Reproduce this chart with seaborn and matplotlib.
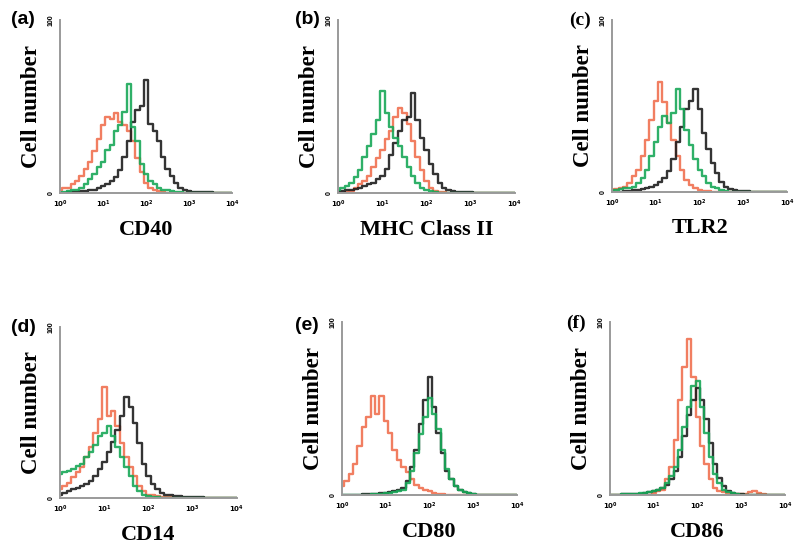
import pandas as pd
import seaborn as sns
import matplotlib.pyplot as plt
from matplotlib.ticker import NullLocator

# fluorescence channel, in decades (10^0 .. 10^4), 0.1 decade bins
DECADES = [0.0, 0.1, 0.2, 0.3, 0.4, 0.5, 0.6, 0.7, 0.8, 0.9,
           1.0, 1.1, 1.2, 1.3, 1.4, 1.5, 1.6, 1.7, 1.8, 1.9,
           2.0, 2.1, 2.2, 2.3, 2.4, 2.5, 2.6, 2.7, 2.8, 2.9,
           3.0, 3.1, 3.2, 3.3, 3.4, 3.5, 3.6, 3.7, 3.8, 3.9, 4.0]

PANELS = ["(a)", "(b)", "(c)", "(d)", "(e)", "(f)"]
MARKERS = ["CD40", "MHC Class II", "TLR2", "CD14", "CD80", "CD86"]

# cell counts (red / black / green)
red_a = [2, 3, 3, 5, 7, 10, 14, 18, 24, 31, 39, 44, 43, 46, 41, 39, 36, 30, 20, 12,
         6, 3, 2, 1, 0.5] + [0] * 16
black_a = [0, 0, 0.5, 0.5, 0.5, 1, 1, 1.5, 2, 3, 4, 5, 7, 9, 13, 21, 30, 41, 48, 50,
           65, 40, 36, 30, 21, 14, 10, 6, 3, 2, 1, 0.8, 0.5, 0.5, 0.3, 0.3, 0.2, 0.2, 0.1, 0, 0]
green_a = [0, 0.5, 1, 1.5, 2, 3, 5, 8, 11, 15, 18, 25, 28, 36, 39, 47, 63, 38, 30, 17,
           11, 7, 5, 3, 2, 1.5, 1, 0.7, 0.5] + [0] * 12

red_b = [0, 0, 0.5, 1, 3, 5, 7, 10, 15, 20, 25, 31, 36, 44, 49, 46, 40, 30, 21, 13,
         7, 3, 1, 0.7, 0.5] + [0] * 16
black_b = [1, 1, 1.5, 2, 2.5, 3, 4, 5, 6, 8, 10, 14, 22, 29, 36, 42, 44, 58, 42, 32,
           25, 17, 11, 6, 3, 1.5, 1, 0.5, 0.5, 0.3, 0.3] + [0] * 10
green_b = [2, 3, 4, 6, 9, 13, 21, 27, 34, 42, 59, 46, 38, 32, 27, 21, 15, 10, 6, 3,
           1.5, 1, 0.5] + [0] * 18

red_c = [1, 1.5, 2, 3, 5, 9, 13, 21, 30, 42, 53, 64, 52, 40, 30, 21, 13, 7, 4, 2,
         1, 0.7, 0.5] + [0] * 18
black_c = [0, 0, 0, 0.5, 0.7, 1, 1.2, 1.5, 2, 3, 4, 6, 8, 12, 19, 29, 38, 48, 53, 60,
           48, 34, 25, 17, 11, 6, 3, 1.5, 1, 0.5, 0.5, 0.3] + [0] * 9
green_c = [0, 1, 1.5, 2, 2.5, 3, 5, 8, 13, 21, 29, 38, 44, 40, 46, 60, 48, 36, 27, 19,
           13, 9, 5, 3, 2, 1, 0.5] + [0] * 14

red_d = [5, 7, 9, 12, 15, 18, 24, 30, 38, 46, 65, 48, 51, 42, 32, 24, 18, 13, 7, 4,
         2, 1.5, 1, 0.7, 0.5, 0.5] + [0] * 15
black_d = [2, 3, 4, 5, 6, 7, 8, 10, 13, 17, 21, 27, 33, 40, 48, 59, 53, 44, 32, 20,
           13, 8, 5, 3, 2, 1.5, 1, 1, 0.8, 0.6, 0.5, 0.4, 0.3] + [0] * 8
green_d = [14, 15, 16, 17, 19, 20, 24, 27, 31, 36, 38, 42, 36, 30, 24, 18, 13, 7, 4, 2,
           1, 0.7, 0.5] + [0] * 18

red_e = [5, 8, 12, 18, 28, 39, 45, 57, 47, 57, 43, 36, 26, 20, 16, 13, 9, 6, 4, 3,
         2, 1, 0.7, 0.5] + [0] * 17
black_e = [0, 0, 0, 0, 0, 0.5, 0.5, 0.7, 0.8, 1, 1, 1.5, 2, 3, 4, 8, 16, 26, 41, 55,
           68, 51, 36, 24, 14, 9, 5, 3, 1.5, 1, 0.5] + [0] * 10
green_e = [0, 0, 0, 0, 0, 0, 0, 0.5, 0.5, 0.7, 1, 1.2, 1.5, 2, 3, 7, 14, 24, 35, 45,
           56, 47, 38, 26, 15, 9, 5, 3, 1.5, 1, 0.5] + [0] * 10

red_f = [0] * 10 + [1, 2, 3, 9, 16, 32, 55, 74, 90, 68, 45, 28, 18, 9, 4, 2,
                    1.5, 1, 0.7, 0.5, 0.5, 0.7, 1.5, 2, 1, 0.5] + [0] * 5
black_f = [0, 0, 0, 0.3, 0.3, 0.5, 0.5, 0.7, 1, 1.5, 2, 3, 4, 6, 9, 14, 22, 34, 46, 55,
           62, 55, 44, 30, 18, 10, 5, 2.5, 1.2, 0.8, 0.5] + [0] * 10
green_f = [0, 0, 0, 0.3, 0.3, 0.5, 0.7, 1, 1.2, 1.5, 2, 3, 4, 7, 11, 16, 26, 39, 51, 63,
           66, 51, 36, 22, 12, 7, 3, 1.5, 1, 0.5] + [0] * 11

SERIES = [
    (red_a, black_a, green_a),
    (red_b, black_b, green_b),
    (red_c, black_c, green_c),
    (red_d, black_d, green_d),
    (red_e, black_e, green_e),
    (red_f, black_f, green_f),
]

sns.set_style("white")
plt.rcParams["font.family"] = ["Liberation Sans", "DejaVu Sans"]
plt.rcParams["text.color"] = "black"
plt.rcParams["axes.labelcolor"] = "black"
plt.rcParams["xtick.color"] = "black"
plt.rcParams["ytick.color"] = "black"

palette = {"red": "#f07050", "black": "#1e1e1e", "green": "#18a858"}
axis_grey = "#9a9a9a"

# [left, bottom, width, height] in figure fractions
boxes = [
    [0.075, 0.651, 0.215, 0.313],
    [0.4225, 0.651, 0.221, 0.313],
    [0.765, 0.653, 0.219, 0.311],
    [0.075, 0.0995, 0.221, 0.309],
    [0.4275, 0.105, 0.219, 0.313],
    [0.7625, 0.105, 0.219, 0.313],
]
letter_pos = [(11, 20), (295, 20), (569, 20), (11, 327), (295, 325), (566, 323)]
letter_font = ["Liberation Sans", "Liberation Sans", "Liberation Serif",
               "Liberation Sans", "Liberation Sans", "Liberation Serif"]

fig = plt.figure(figsize=(8, 5.53), dpi=100)

for i in range(6):
    ax = fig.add_axes(boxes[i])
    red, black, green = SERIES[i]
    df = pd.DataFrame({
        "intensity": [10 ** d for d in DECADES] * 3,
        "count": list(red) + list(black) + list(green),
        "stain": ["red"] * len(red) + ["black"] * len(black) + ["green"] * len(green),
    })
    sns.lineplot(data=df, x="intensity", y="count", hue="stain",
                 hue_order=["red", "black", "green"], palette=palette,
                 estimator=None, sort=False, legend=False, lw=1.7, alpha=0.9,
                 drawstyle="steps-mid", ax=ax)
    ax.set_xscale("log")
    ax.set_xlim(1, 1e4)
    ax.set_ylim(0, 100)
    ax.set_xticks([1, 10, 100, 1000, 10000])
    ax.set_xticklabels([r"$\mathbf{10^{%d}}$" % k for k in range(5)], fontsize=5)
    ax.xaxis.set_minor_locator(NullLocator())
    ax.set_yticks([0, 25, 50, 75, 100])
    ax.set_yticklabels(["0", "", "", "", "100"], fontsize=5, fontweight="bold",
                       rotation=90, va="center")
    ax.tick_params(axis="both", length=2, width=0.8, color=axis_grey, pad=2)
    for side in ["top", "right"]:
        ax.spines[side].set_visible(False)
    for side in ["left", "bottom"]:
        ax.spines[side].set_color(axis_grey)
        ax.spines[side].set_linewidth(1.4)
    ax.set_ylabel("Cell number", fontfamily="Liberation Serif", fontweight="bold",
                  fontsize=16.5, labelpad=4)
    ax.set_xlabel(MARKERS[i], fontfamily="Liberation Serif", fontweight="bold",
                  fontsize=16, labelpad=7)
    x, y = letter_pos[i]
    fig.text(x / 800, 1 - y / 553, PANELS[i], fontsize=14, fontweight="bold",
             fontfamily=letter_font[i], ha="left", va="center")

fig.savefig("out.png", dpi=100)
